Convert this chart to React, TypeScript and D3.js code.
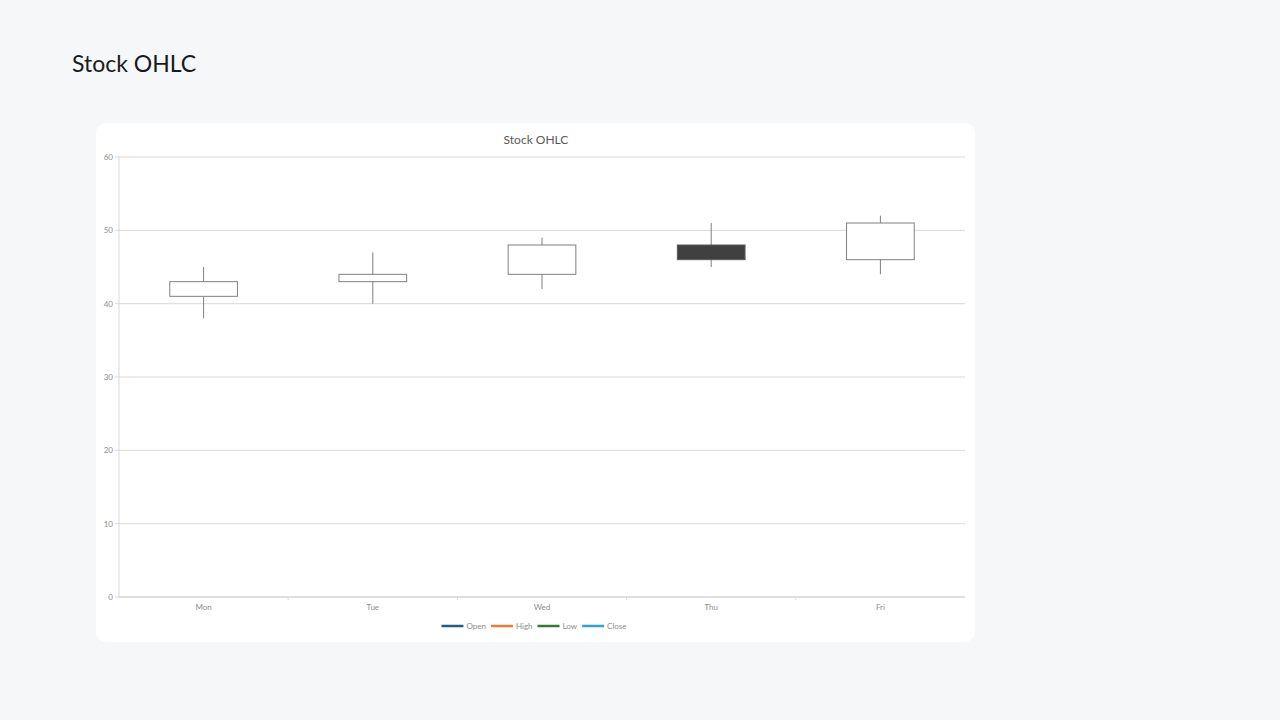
import React from "react";
import * as d3 from "d3";

const days = ["Mon", "Tue", "Wed", "Thu", "Fri"];
const openVals = [41, 43, 44, 48, 46];
const highVals = [45, 47, 49, 51, 52];
const lowVals = [38, 40, 42, 45, 44];
const closeVals = [43, 44, 48, 46, 51];
const yTicks = [0, 10, 20, 30, 40, 50, 60];
const legendItems = [
  { name: "Open", color: "#1f5f8b" },
  { name: "High", color: "#ed7d31" },
  { name: "Low", color: "#2e7d32" },
  { name: "Close", color: "#29a3e0" },
];

const W = 1280;
const H = 720;
const plot = { left: 119, right: 965, top: 157, bottom: 597 };
const font = "Lato, 'Open Sans', sans-serif";

function measure(text: string, size: number): number {
  try {
    const c = document.createElement("canvas").getContext("2d");
    if (c) {
      c.font = `${size}px Lato`;
      return c.measureText(text).width;
    }
  } catch (e) {}
  return text.length * size * 0.5;
}

export default function App() {
  const x = d3.scaleBand<string>().domain(days).range([plot.left, plot.right]).padding(0);
  const y = d3.scaleLinear().domain([0, 60]).range([plot.bottom, plot.top]);
  const bw = x.bandwidth();
  const boxW = bw * 0.4;

  // legend layout
  const legendY = 626;
  const itemWidths = legendItems.map((l) => 22 + 3 + measure(l.name, 8) + 5);
  const totalW = itemWidths.reduce((a, b) => a + b, 0) - 5;
  let lx = 534 - totalW / 2;

  return (
    <svg
      width={W}
      height={H}
      style={{ position: "absolute", left: 0, top: 0, display: "block" }}
      fontFamily={font}
    >
      <rect x={0} y={0} width={W} height={H} fill="#f6f7f9" />
      <text x={72} y={72} fontSize={23} fill="#1a1a1a">
        Stock OHLC
      </text>
      <rect x={96} y={123} width={879} height={519} rx={10} ry={10} fill="#ffffff" />
      <text x={536} y={144} fontSize={12} fill="#595959" textAnchor="middle">
        Stock OHLC
      </text>

      {/* gridlines */}
      {yTicks.map((t) => (
        <g key={t}>
          {t !== 0 && (
            <line x1={plot.left} x2={plot.right} y1={y(t)} y2={y(t)} stroke="#d9d9d9" strokeWidth={1} />
          )}
          <line x1={plot.left - 4} x2={plot.left} y1={y(t)} y2={y(t)} stroke="#d9d9d9" strokeWidth={1} />
          <text x={plot.left - 6} y={y(t) + 3} fontSize={8} fill="#8c8c8c" textAnchor="end">
            {t}
          </text>
        </g>
      ))}
      {/* y axis line */}
      <line x1={plot.left} x2={plot.left} y1={plot.top} y2={plot.bottom} stroke="#d9d9d9" strokeWidth={1} />
      {/* x axis line */}
      <line x1={plot.left} x2={plot.right} y1={plot.bottom} y2={plot.bottom} stroke="#bfbfbf" strokeWidth={1} />
      {days.map((d, i) => (
        <g key={d}>
          {i > 0 && (
            <line
              x1={x(d)!}
              x2={x(d)!}
              y1={plot.bottom}
              y2={plot.bottom + 3}
              stroke="#d9d9d9"
              strokeWidth={1}
            />
          )}
          <text x={x(d)! + bw / 2} y={plot.bottom + 13} fontSize={8} fill="#8c8c8c" textAnchor="middle">
            {d}
          </text>
        </g>
      ))}

      {/* candles */}
      {days.map((d, i) => {
        const cx = x(d)! + bw / 2;
        const o = openVals[i];
        const c = closeVals[i];
        const up = c >= o;
        const top = y(Math.max(o, c));
        const bot = y(Math.min(o, c));
        return (
          <g key={d}>
            <line x1={cx} x2={cx} y1={y(highVals[i])} y2={top} stroke="#7f7f7f" strokeWidth={1} />
            <line x1={cx} x2={cx} y1={bot} y2={y(lowVals[i])} stroke="#7f7f7f" strokeWidth={1} />
            <rect
              x={cx - boxW / 2}
              y={top}
              width={boxW}
              height={bot - top}
              fill={up ? "#ffffff" : "#404040"}
              stroke={up ? "#7f7f7f" : "#5a5a5a"}
              strokeWidth={1}
            />
          </g>
        );
      })}

      {/* legend */}
      {legendItems.map((l, i) => {
        const x0 = lx;
        lx += itemWidths[i];
        return (
          <g key={l.name}>
            <line x1={x0} x2={x0 + 22} y1={legendY} y2={legendY} stroke={l.color} strokeWidth={2.5} />
            <text x={x0 + 25} y={legendY + 3} fontSize={8} fill="#8c8c8c">
              {l.name}
            </text>
          </g>
        );
      })}
    </svg>
  );
}
